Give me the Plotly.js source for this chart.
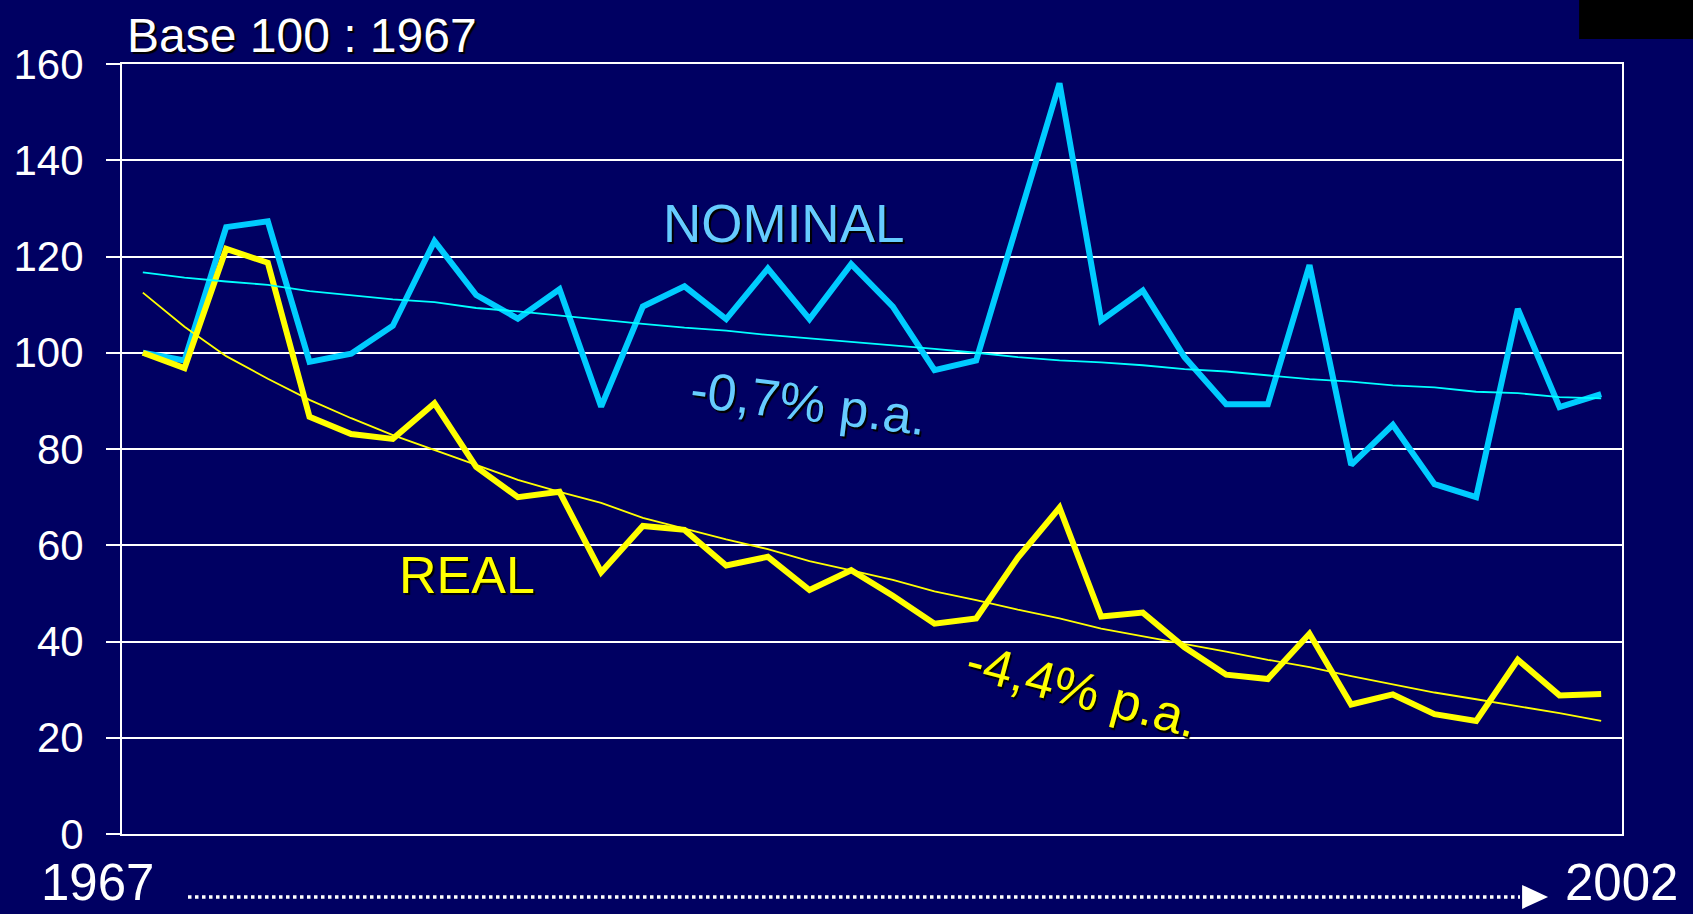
<!DOCTYPE html>
<html>
<head>
<meta charset="utf-8">
<script src="https://cdn.plot.ly/plotly-3.0.1.min.js"></script>
<style>
  html, body { margin: 0; padding: 0; background: #000062; }
  #chart { width: 1693px; height: 914px; }
</style>
</head>
<body>
<div id="chart"></div>
<script>
// ---- data ----
const years = [1967,1968,1969,1970,1971,1972,1973,1974,1975,1976,1977,1978,1979,1980,1981,1982,1983,1984,
               1985,1986,1987,1988,1989,1990,1991,1992,1993,1994,1995,1996,1997,1998,1999,2000,2001,2002];

const nominal = [100,98.4,126.1,127.3,98.1,99.8,105.6,123.2,112,107.1,113.2,88.8,109.6,113.8,107,117.5,107,118.4,
                 109.6,96.4,98.4,127.2,156,106.7,112.9,99.1,89.3,89.3,118.2,76.7,85,72.7,70,109.1,88.7,91.4];

const nominalTrend = [116.7,115.6,114.8,114.1,112.8,112.0,111.1,110.5,109.3,108.6,107.7,106.9,106.0,105.2,104.6,103.7,103.0,102.2,
                      101.6,100.8,100.0,99.1,98.4,98.0,97.4,96.6,96.1,95.3,94.5,94.0,93.2,92.8,91.9,91.6,90.8,90.5];

const real = [100,96.8,121.6,118.7,86.7,83.1,82.1,89.5,76.3,70,71.1,54.4,64.0,63.2,55.8,57.6,50.7,54.8,
              49.5,43.7,44.8,57.4,67.8,45.2,46.0,38.8,33.1,32.2,41.6,26.9,29.0,24.9,23.5,36.2,28.8,29.1];

const realTrend = [112.5,105.4,99.3,94.6,90.2,86.4,82.9,79.8,76.7,73.6,71.1,68.8,65.7,63.4,61.2,59.2,56.7,54.8,
                   52.8,50.4,48.6,46.6,44.8,42.7,41.1,39.6,37.9,36.2,34.7,32.8,31.1,29.4,28.0,26.6,25.1,23.5];

const yTicks = [0,20,40,60,80,100,120,140,160];

const titleText = "Base 100 : 1967";
const startLabel = "1967";
const endLabel = "2002";
const nominalLabel = "NOMINAL";
const realLabel = "REAL";
const nominalRate = "-0,7% p.a.";
const realRate = "-4,4% p.a.";

// ---- styling ----
const BG = "#000062";
const FONT = "'Liberation Sans', Arial, sans-serif";
const SHADOW = "2px 2px 1px #000000";

const traces = [
  { x: years, y: nominal, type: "scatter", mode: "lines", name: "Nominal",
    line: { color: "#00CCFF", width: 6 }, hoverinfo: "skip" },
  { x: years, y: real, type: "scatter", mode: "lines", name: "Real",
    line: { color: "#FFFF00", width: 6 }, hoverinfo: "skip" },
  { x: years, y: nominalTrend, type: "scatter", mode: "lines", name: "Nominal trend",
    line: { color: "#00FFFF", width: 1.8 }, hoverinfo: "skip" },
  { x: years, y: realTrend, type: "scatter", mode: "lines", name: "Real trend",
    line: { color: "#FFFF00", width: 1.8 }, hoverinfo: "skip" }
];

const layout = {
  width: 1693, height: 914,
  paper_bgcolor: BG, plot_bgcolor: BG,
  margin: { l: 122, r: 71, t: 64, b: 80, pad: 0 },
  showlegend: false,
  font: { family: FONT, color: "#FFFFFF" },
  xaxis: {
    range: [1966.5, 2002.5], showgrid: false, zeroline: false,
    showticklabels: false, ticks: "",
    showline: true, mirror: true, linecolor: "#FFFFFF", linewidth: 2
  },
  yaxis: {
    range: [0, 160], tickvals: yTicks, ticktext: yTicks.map(String),
    showgrid: true, gridcolor: "#FFFFFF", gridwidth: 2, zeroline: false,
    ticks: "outside", ticklen: 14, tickwidth: 2, tickcolor: "#FFFFFF",
    ticklabelstandoff: 14,
    tickfont: { family: FONT, size: 42, color: "#FFFFFF" },
    showline: true, mirror: true, linecolor: "#FFFFFF", linewidth: 2
  },
  shapes: [
    // dark box in top-right corner
    { type: "rect", xref: "paper", yref: "paper", x0: 0.9714, x1: 1.06, y0: 1.0325, y1: 1.1,
      fillcolor: "#000000", line: { width: 0 }, layer: "above" },
    // dotted time arrow
    { type: "line", xref: "paper", yref: "paper", x0: 0.044, x1: 0.932, y0: -0.0818, y1: -0.0818,
      line: { color: "#FFFFFF", width: 3.5, dash: "dot" } },
    { type: "path", xref: "paper", yref: "paper",
      path: "M 0.9334 -0.0662 L 0.9334 -0.0974 L 0.9507 -0.0818 Z",
      fillcolor: "#FFFFFF", line: { width: 0 } }
  ],
  annotations: [
    { text: titleText, xref: "paper", yref: "paper", x: 0.002, y: 1.037,
      xanchor: "left", yanchor: "middle", showarrow: false,
      font: { family: FONT, size: 48, color: "#FFFFFF", shadow: SHADOW } },
    { text: startLabel, xref: "paper", yref: "paper", x: -0.055, y: 0, yshift: -78,
      xanchor: "left", yanchor: "bottom", borderpad: 0, showarrow: false,
      font: { family: FONT, size: 51, color: "#FFFFFF" } },
    { text: endLabel, xref: "paper", yref: "paper", x: 0.961, y: 0, yshift: -78,
      xanchor: "left", yanchor: "bottom", borderpad: 0, showarrow: false,
      font: { family: FONT, size: 51, color: "#FFFFFF" } },
    { text: nominalLabel, x: 1982.38, y: 126.8, xref: "x", yref: "y", showarrow: false,
      font: { family: FONT, size: 53, color: "#66CCFF", shadow: SHADOW } },
    { text: nominalRate, x: 1982.98, y: 89.6, xref: "x", yref: "y", showarrow: false, textangle: 7,
      font: { family: FONT, size: 52, color: "#66CCFF", shadow: SHADOW } },
    { text: realLabel, x: 1974.77, y: 53.8, xref: "x", yref: "y", showarrow: false,
      font: { family: FONT, size: 52, color: "#FFFF00", shadow: SHADOW } },
    { text: realRate, x: 1989.55, y: 30.0, xref: "x", yref: "y", showarrow: false, textangle: 15,
      font: { family: FONT, size: 52, color: "#FFFF00", shadow: SHADOW } }
  ]
};

Plotly.newPlot("chart", traces, layout, { staticPlot: true, displayModeBar: false });
</script>
</body>
</html>
